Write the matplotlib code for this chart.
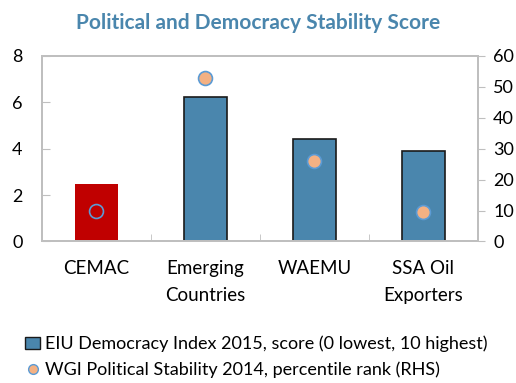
import numpy as np
import matplotlib
matplotlib.use("Agg")
import matplotlib.pyplot as plt
from matplotlib.patches import Patch
from matplotlib.lines import Line2D

plt.rcParams['font.family'] = ['Lato', 'DejaVu Sans']

# === DONNEES
categories = ["CEMAC", "Emerging\nCountries", "WAEMU", "SSA Oil\nExporters"]
eiu_score = [2.5, 6.25, 4.4, 3.9]
wgi_rank = [10, 53, 26, 9.5]

bleu = "#4A86AD"
rouge = "#C00000"
orange = "#F4B183"
bord_pt = "#5B9BD5"
gris = "#BFBFBF"

fig = plt.figure(figsize=(5.16, 3.83), dpi=100)
ax = fig.add_axes([0.0814, 0.3695, 0.8448, 0.4843])
ax2 = ax.twinx()

x = np.arange(len(categories))
couleurs = [rouge] + [bleu] * (len(categories) - 1)
bords = ["none"] + ["#1A1A1A"] * (len(categories) - 1)
ax.bar(x, eiu_score, width=0.4, color=couleurs, edgecolor=bords, linewidth=1.2, zorder=2)

# === POINTS WGI (CEMAC en cercle vide)
for i, v in enumerate(wgi_rank):
    fc = "none" if i == 0 else orange
    ax2.plot(x[i], v, marker="o", markersize=10, markerfacecolor=fc,
             markeredgecolor=bord_pt, markeredgewidth=1.2, linestyle="None", zorder=3)

ax.set_xlim(-0.5, len(categories) - 0.5)
ax.set_ylim(0, 8)
ax2.set_ylim(0, 60)
ax.set_yticks([0, 2, 4, 6, 8])
ax2.set_yticks([0, 10, 20, 30, 40, 50, 60])

ax.set_xticks(x)
ax.set_xticklabels(categories, fontsize=13.5, linespacing=1.75)
ax.tick_params(axis="x", length=0, pad=13)
ax.set_xticks(np.arange(0.5, len(categories) - 1, 1), minor=True)
ax.tick_params(axis="x", which="minor", direction="in", length=5, color=gris)
ax.tick_params(axis="y", direction="in", length=6, color=gris, labelsize=13, pad=14)
ax2.tick_params(axis="y", direction="out", length=5, color=gris, labelsize=13, pad=6)

for a in (ax, ax2):
    for s in a.spines.values():
        s.set_color(gris)
        s.set_linewidth(1.3)

fig.text(0.5, 0.94, "Political and Democracy Stability Score", ha="center", va="center",
         fontsize=15, fontweight="bold", color=bleu)

# === LEGENDE
handles = [
    Patch(facecolor=bleu, edgecolor="#1A1A1A", label="EIU Democracy Index 2015, score (0 lowest, 10 highest)"),
    Line2D([], [], marker="o", markersize=7, markerfacecolor=orange, markeredgecolor=bord_pt,
           linestyle="None", label="WGI Political Stability 2014, percentile rank (RHS)"),
]
fig.legend(handles=handles, loc="upper left", bbox_to_anchor=(0.035, 0.142), frameon=False,
           fontsize=13, handlelength=0.8, handletextpad=0.3, borderaxespad=0, labelspacing=0.5,
           bbox_transform=fig.transFigure)

fig.savefig("out.png", dpi=100)
